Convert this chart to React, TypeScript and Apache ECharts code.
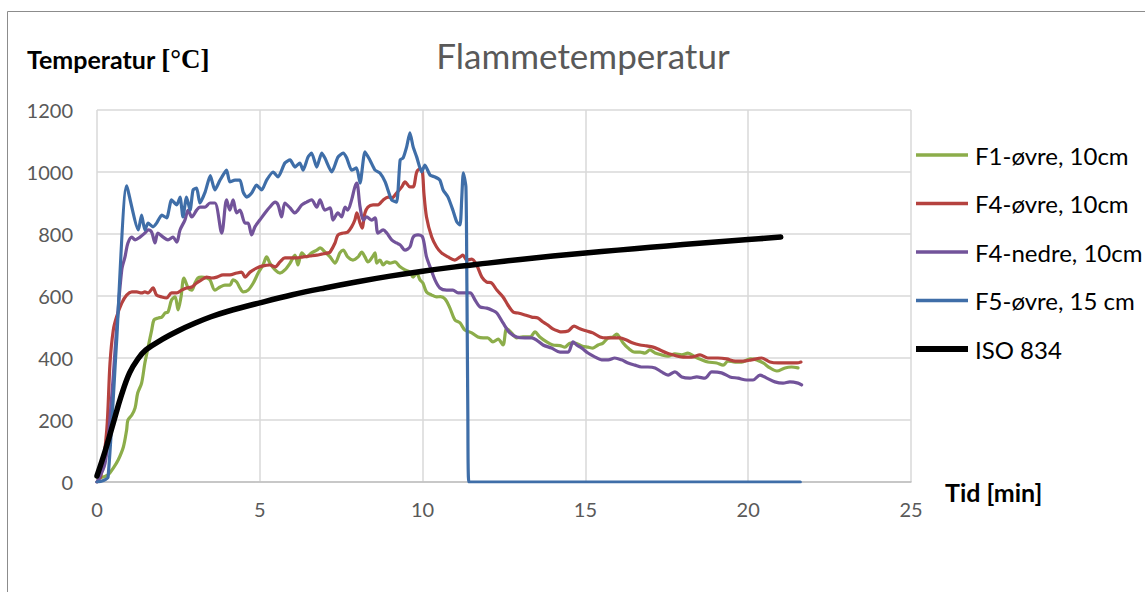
import React, { useEffect, useRef } from "react";
import * as echarts from "echarts";

// ---- Data ----
const f1Time = [0, 0.14, 0.34, 0.5, 0.65, 0.81, 0.91, 0.95, 1.07, 1.17, 1.25, 1.37, 1.47, 1.57, 1.68, 1.75, 1.88, 1.99, 2.09, 2.18, 2.29, 2.4, 2.49, 2.58, 2.67, 2.8, 2.91, 3.01, 3.1, 3.21, 3.37, 3.47, 3.62, 3.78, 3.93, 4.08, 4.18, 4.29, 4.39, 4.49, 4.64, 4.8, 4.95, 5.1, 5.21, 5.31, 5.47, 5.62, 5.77, 5.93, 6.08, 6.17, 6.29, 6.44, 6.59, 6.75, 6.85, 7.0, 7.16, 7.31, 7.46, 7.56, 7.7, 7.86, 8.02, 8.13, 8.23, 8.32, 8.44, 8.54, 8.59, 8.69, 8.79, 8.9, 9.0, 9.15, 9.31, 9.46, 9.61, 9.71, 9.82, 9.92, 10.01, 10.12, 10.28, 10.43, 10.55, 10.69, 10.84, 10.99, 11.15, 11.3, 11.51, 11.7, 11.86, 12.0, 12.16, 12.32, 12.47, 12.58, 12.73, 12.89, 13.08, 13.3, 13.45, 13.6, 13.81, 14.0, 14.22, 14.37, 14.53, 14.68, 14.89, 15.08, 15.23, 15.39, 15.54, 15.7, 15.85, 15.96, 16.06, 16.16, 16.31, 16.52, 16.68, 16.83, 16.98, 17.14, 17.34, 17.54, 17.75, 17.96, 18.15, 18.37, 18.57, 18.76, 19.03, 19.23, 19.38, 19.6, 19.8, 20.06, 20.26, 20.46, 20.67, 20.88, 21.13, 21.33, 21.53];
const f1Temp = [15, 15, 23, 45, 71, 113, 168, 200, 216, 239, 287, 319, 384, 435, 490, 523, 529, 532, 545, 548, 587, 597, 555, 597, 658, 626, 619, 642, 658, 661, 658, 652, 619, 629, 635, 635, 652, 645, 626, 613, 619, 642, 674, 700, 726, 706, 684, 674, 684, 706, 732, 700, 739, 726, 739, 748, 755, 742, 726, 706, 739, 748, 726, 716, 726, 742, 726, 710, 723, 739, 706, 716, 700, 710, 706, 710, 694, 684, 677, 661, 674, 652, 642, 613, 603, 597, 598, 590, 561, 523, 513, 490, 481, 468, 465, 465, 452, 461, 442, 495, 481, 465, 468, 468, 484, 468, 452, 442, 440, 435, 448, 448, 439, 435, 432, 442, 448, 465, 468, 477, 465, 448, 432, 419, 419, 416, 426, 416, 410, 406, 413, 410, 416, 403, 394, 387, 384, 377, 390, 387, 387, 397, 394, 384, 368, 358, 368, 371, 368];

const f4oTime = [0, 0.12, 0.3, 0.4, 0.5, 0.6, 0.76, 0.91, 1.07, 1.22, 1.37, 1.47, 1.57, 1.72, 1.83, 1.99, 2.14, 2.29, 2.45, 2.6, 2.75, 2.91, 3.06, 3.21, 3.37, 3.52, 3.68, 3.87, 4.08, 4.29, 4.44, 4.55, 4.7, 4.9, 5.1, 5.31, 5.47, 5.62, 5.77, 5.98, 6.13, 6.33, 6.54, 6.75, 6.9, 7.1, 7.16, 7.31, 7.4, 7.56, 7.7, 7.82, 7.92, 7.98, 8.08, 8.14, 8.23, 8.32, 8.48, 8.63, 8.79, 8.94, 9.05, 9.2, 9.36, 9.46, 9.61, 9.71, 9.82, 9.92, 9.99, 10.04, 10.12, 10.28, 10.43, 10.58, 10.78, 10.99, 11.15, 11.24, 11.35, 11.51, 11.66, 11.82, 11.97, 12.12, 12.28, 12.47, 12.62, 12.78, 12.93, 13.14, 13.35, 13.54, 13.7, 13.85, 14.0, 14.16, 14.27, 14.47, 14.65, 14.83, 15.04, 15.23, 15.45, 15.65, 15.85, 16.06, 16.26, 16.46, 16.68, 16.88, 17.08, 17.29, 17.5, 17.69, 17.87, 18.0, 18.26, 18.52, 18.76, 19.07, 19.34, 19.6, 19.85, 20.1, 20.41, 20.67, 20.92, 21.22, 21.5, 21.62];
const f4oTemp = [0, 20, 168, 384, 490, 532, 577, 603, 613, 613, 610, 613, 610, 626, 603, 597, 594, 610, 610, 619, 626, 629, 642, 652, 661, 658, 661, 668, 668, 674, 677, 661, 677, 690, 697, 700, 694, 710, 723, 723, 723, 726, 729, 732, 735, 739, 742, 771, 797, 803, 806, 823, 845, 868, 835, 819, 868, 887, 894, 894, 910, 919, 916, 932, 952, 968, 952, 952, 1000, 1010, 1005, 932, 855, 790, 758, 739, 726, 716, 726, 732, 716, 719, 700, 661, 645, 642, 619, 597, 571, 548, 545, 539, 532, 529, 516, 506, 494, 487, 484, 487, 503, 494, 487, 481, 468, 465, 465, 465, 458, 448, 442, 439, 435, 426, 416, 410, 405, 403, 403, 410, 400, 400, 397, 390, 390, 394, 400, 387, 384, 384, 384, 387];

const f4nTime = [0, 0.25, 0.45, 0.6, 0.76, 0.86, 0.95, 1.07, 1.17, 1.32, 1.47, 1.57, 1.68, 1.78, 1.87, 2.03, 2.18, 2.33, 2.45, 2.55, 2.7, 2.8, 2.91, 3.06, 3.16, 3.32, 3.47, 3.62, 3.83, 3.98, 4.08, 4.18, 4.29, 4.39, 4.55, 4.64, 4.75, 4.85, 5.0, 5.16, 5.31, 5.47, 5.56, 5.67, 5.77, 5.93, 6.08, 6.17, 6.29, 6.44, 6.59, 6.75, 6.85, 7.0, 7.16, 7.25, 7.4, 7.51, 7.62, 7.7, 7.82, 7.92, 7.98, 8.08, 8.18, 8.28, 8.44, 8.54, 8.63, 8.79, 8.9, 9.05, 9.2, 9.31, 9.46, 9.61, 9.71, 9.86, 10.0, 10.12, 10.23, 10.38, 10.53, 10.74, 10.93, 11.09, 11.24, 11.46, 11.61, 11.76, 11.97, 12.12, 12.28, 12.47, 12.68, 12.89, 13.14, 13.35, 13.5, 13.7, 13.96, 14.22, 14.47, 14.62, 14.73, 14.89, 15.08, 15.3, 15.5, 15.7, 15.9, 16.11, 16.31, 16.52, 16.72, 16.92, 17.14, 17.34, 17.54, 17.75, 17.96, 18.21, 18.42, 18.67, 18.88, 19.18, 19.44, 19.69, 19.95, 20.15, 20.36, 20.57, 20.82, 21.07, 21.28, 21.53, 21.64];
const f4nTemp = [0, 61, 274, 490, 684, 726, 771, 790, 781, 790, 803, 813, 806, 771, 803, 790, 781, 790, 774, 813, 845, 877, 855, 877, 887, 887, 900, 900, 803, 910, 877, 910, 868, 877, 835, 835, 797, 823, 845, 868, 887, 903, 894, 855, 900, 884, 868, 877, 894, 903, 910, 887, 910, 877, 884, 845, 868, 855, 887, 877, 910, 952, 964, 887, 845, 855, 845, 852, 803, 813, 803, 781, 771, 765, 748, 758, 790, 797, 790, 726, 694, 652, 626, 619, 619, 610, 610, 610, 587, 565, 561, 555, 545, 513, 481, 468, 465, 465, 458, 442, 432, 419, 419, 452, 442, 432, 416, 403, 394, 394, 400, 394, 384, 377, 371, 371, 368, 355, 345, 355, 339, 335, 339, 335, 355, 352, 339, 335, 329, 329, 345, 335, 323, 319, 323, 319, 313];

const f5Time = [0, 0.2, 0.34, 0.6, 0.91, 1.27, 1.37, 1.47, 1.57, 1.72, 1.83, 1.99, 2.14, 2.29, 2.45, 2.55, 2.64, 2.75, 2.86, 2.95, 3.06, 3.16, 3.32, 3.48, 3.62, 3.78, 3.98, 4.08, 4.24, 4.39, 4.49, 4.6, 4.75, 4.9, 5.06, 5.21, 5.41, 5.56, 5.77, 5.93, 6.08, 6.23, 6.33, 6.48, 6.59, 6.75, 6.9, 7.0, 7.21, 7.4, 7.56, 7.67, 7.82, 7.97, 8.08, 8.23, 8.38, 8.54, 8.69, 8.85, 9.05, 9.2, 9.31, 9.4, 9.51, 9.61, 9.71, 9.82, 9.97, 10.07, 10.23, 10.38, 10.53, 10.63, 10.78, 10.93, 11.05, 11.15, 11.2, 11.25, 11.33, 11.36, 11.39, 11.42, 21.6];
const f5Temp = [0, 5, 16, 450, 955, 813, 861, 813, 835, 823, 835, 861, 852, 910, 894, 919, 855, 919, 877, 942, 948, 900, 935, 988, 942, 974, 1006, 968, 974, 974, 935, 919, 932, 958, 942, 974, 1000, 984, 1029, 1039, 1016, 1029, 1006, 1048, 1061, 1016, 1061, 1045, 1000, 1048, 1061, 1045, 1006, 1013, 964, 1065, 1039, 1006, 997, 968, 910, 903, 1039, 1045, 1081, 1126, 1081, 1048, 1000, 1022, 990, 984, 974, 942, 919, 877, 839, 829, 910, 997, 952, 642, 210, 0, 0];

const isoTime = [0, 0.25, 0.5, 0.75, 1, 1.25, 1.5, 2, 2.5, 3, 3.5, 4, 5, 6, 7, 8, 9, 10, 11, 12, 13, 14, 15, 16, 17, 18, 19, 20, 21];
const isoTemp = [20, 100, 190, 280, 352, 396, 426, 460, 488, 512, 533, 550, 578, 604, 626, 646, 664, 680, 694, 706, 718, 729, 739, 748, 757, 766, 774, 782, 790];

const seriesNames = ["F1-øvre, 10cm", "F4-øvre, 10cm", "F4-nedre, 10cm", "F5-øvre, 15 cm", "ISO 834"];
const seriesColors = ["#8cad4a", "#b5423f", "#72539a", "#3f6ea8", "#000000"];
const xTicks = [0, 5, 10, 15, 20, 25];
const yTicks = [0, 200, 400, 600, 800, 1000, 1200];

const zip = (t: number[], v: number[]) => t.map((x, i) => [x, v[i]]);

const FONT = 'Lato, "Open Sans", sans-serif';

export default function App() {
  const ref = useRef<HTMLDivElement>(null);
  useEffect(() => {
    if (!ref.current) return;
    const chart = echarts.init(ref.current, undefined, { renderer: "svg" });
    const mk = (i: number, data: number[][], width: number, smooth: number) => ({
      name: seriesNames[i],
      type: "line",
      data,
      showSymbol: false,
      symbol: "none",
      smooth,
      lineStyle: { color: seriesColors[i], width, cap: "round", join: "round" },
      itemStyle: { color: seriesColors[i] },
      emphasis: { disabled: true },
    });
    chart.setOption({
      animation: false,
      textStyle: { fontFamily: FONT },
      title: {
        text: "Flammetemperatur",
        left: 578,
        top: 32,
        textAlign: "center",
        textStyle: { fontFamily: FONT, fontSize: 35, fontWeight: "normal", color: "#595959" },
      },
      grid: { left: 97, top: 110, width: 814, height: 372, containLabel: false },
      legend: {
        orient: "vertical",
        left: 913,
        top: 143,
        padding: 0,
        itemWidth: 52,
        itemHeight: 14,
        itemGap: 24.5,
        itemStyle: { opacity: 0 },
        data: seriesNames.map((name, i) => ({
          name,
          itemStyle: { opacity: 0 },
          lineStyle: { color: seriesColors[i], width: i === 4 ? 6 : 3.5, cap: "butt" },
        })),
        textStyle: { fontFamily: FONT, fontSize: 24, color: "#000", lineHeight: 24, padding: [0, 0, 0, 2] },
        selectedMode: false,
      },
      xAxis: {
        type: "value",
        min: xTicks[0],
        max: xTicks[xTicks.length - 1],
        interval: 5,
        name: "Tid [min]",
        nameLocation: "end",
        nameGap: 34,
        nameTextStyle: { fontFamily: FONT, fontSize: 25, fontWeight: "bold", color: "#000", align: "left", verticalAlign: "top", lineHeight: 20 },
        axisLine: { show: true, lineStyle: { color: "#bfbfbf", width: 1.5 } },
        axisTick: { show: false },
        axisLabel: { margin: 17, fontSize: 20, color: "#595959", fontFamily: FONT },
        splitLine: { show: true, lineStyle: { color: "#d9d9d9", width: 1.5 } },
      },
      yAxis: {
        type: "value",
        min: yTicks[0],
        max: yTicks[yTicks.length - 1],
        interval: 200,
        axisLine: { show: false },
        axisTick: { show: false },
        axisLabel: { margin: 24, fontSize: 20, color: "#595959", fontFamily: FONT, formatter: (v: number) => String(v) },
        splitLine: { show: true, lineStyle: { color: "#d9d9d9", width: 1.5 } },
      },
      graphic: [
        {
          type: "rect",
          silent: true,
          shape: { x: 7.5, y: 11.5, width: 1145, height: 600 },
          style: { fill: "none", stroke: "#8c8c8c", lineWidth: 1 },
        },
        {
          type: "text",
          left: 27,
          top: 45,
          style: {
            text: "{a|Temperatur }{b|[°C]}",
            rich: {
              a: { fontFamily: FONT, fontSize: 25, fontWeight: "bold", fill: "#000" },
              b: { fontFamily: '"Liberation Serif", "DejaVu Serif", serif', fontSize: 27, fontWeight: "bold", fill: "#000" },
            },
          },
        },
      ],
      series: [
        mk(0, zip(f1Time, f1Temp), 3.2, 0.3),
        mk(1, zip(f4oTime, f4oTemp), 3.2, 0.3),
        mk(2, zip(f4nTime, f4nTemp), 3.2, 0.3),
        mk(3, zip(f5Time, f5Temp), 3.2, 0.2),
        mk(4, zip(isoTime, isoTemp), 5.5, 0.4),
      ],
    });
    return () => chart.dispose();
  }, []);
  return <div ref={ref} style={{ position: "absolute", left: 0, top: 0, width: 1145, height: 592, background: "#fff" }} />;
}
